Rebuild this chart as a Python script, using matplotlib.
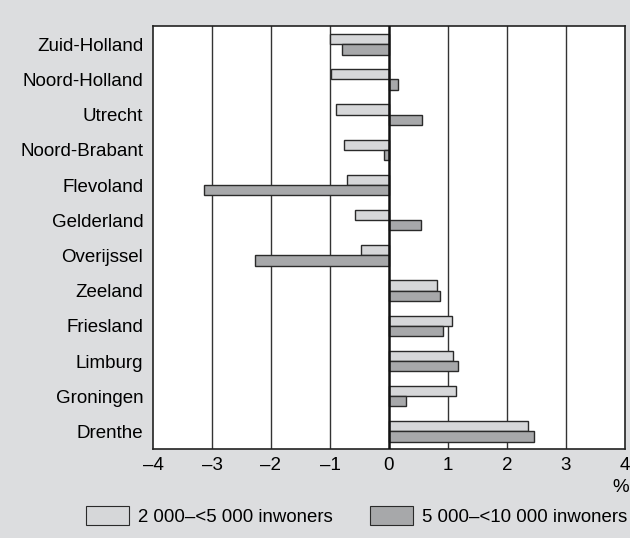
import numpy as np
import matplotlib.pyplot as plt
from matplotlib.patches import Patch

plt.rcParams['font.family'] = ['Liberation Sans', 'DejaVu Sans']

provinces = ['Zuid-Holland', 'Noord-Holland', 'Utrecht', 'Noord-Brabant', 'Flevoland',
             'Gelderland', 'Overijssel', 'Zeeland', 'Friesland', 'Limburg',
             'Groningen', 'Drenthe']
small = [-1.00, -0.99, -0.90, -0.76, -0.72, -0.58, -0.48, 0.82, 1.06, 1.08, 1.14, 2.36]
medium = [-0.79, 0.15, 0.56, -0.09, -3.14, 0.54, -2.27, 0.86, 0.92, 1.17, 0.29, 2.46]
series_labels = ['2 000\u2013<5 000 inwoners', '5 000\u2013<10 000 inwoners']
xticks = [-4, -3, -2, -1, 0, 1, 2, 3, 4]

bg = '#dcdddf'
light = '#d6d7d9'
dark = '#a7a8aa'
edge = '#2a2a2a'

fig = plt.figure(figsize=(6.3, 5.38), dpi=100, facecolor=bg)
ax = fig.add_axes([153 / 630, 1 - 449 / 538, 472 / 630, 423 / 538])
ax.set_facecolor('white')

y = np.arange(len(provinces))
h = 0.29
ax.barh(y - h / 2, small, height=h, color=light, edgecolor=edge, linewidth=1, zorder=3)
ax.barh(y + h / 2, medium, height=h, color=dark, edgecolor=edge, linewidth=1, zorder=3)

for t in xticks[1:-1]:
    ax.axvline(t, color='#333333' if t != 0 else '#111111', lw=1 if t != 0 else 1.8,
               zorder=2 if t != 0 else 4)

ax.set_xlim(-4, 4)
ax.set_ylim(11.5, -0.52)
ax.set_xticks(xticks)
ax.set_xticklabels([str(t).replace('-', '\u2013') for t in xticks], fontsize=13.5)
ax.set_yticks(y)
ax.set_yticklabels(provinces, fontsize=13.5)
ax.tick_params(axis='y', length=0, pad=7)
ax.tick_params(axis='x', direction='in', length=0, pad=6)
for s in ax.spines.values():
    s.set_color('#222222')
    s.set_linewidth(1.2)

ax.text(0.99, -0.07, '%', transform=ax.transAxes, ha='center', va='top', fontsize=13.5)

handles = [Patch(facecolor=light, edgecolor=edge, lw=0.8),
           Patch(facecolor=dark, edgecolor=edge, lw=0.8)]
fig.legend(handles, series_labels, loc='center', bbox_to_anchor=(357 / 630, 1 - 516 / 538),
           ncol=2, frameon=False, fontsize=13.4, handlelength=2.3, handleheight=1.2,
           columnspacing=2.0, handletextpad=0.5, borderpad=0, borderaxespad=0)

fig.savefig('out.png', dpi=100, facecolor=bg)
